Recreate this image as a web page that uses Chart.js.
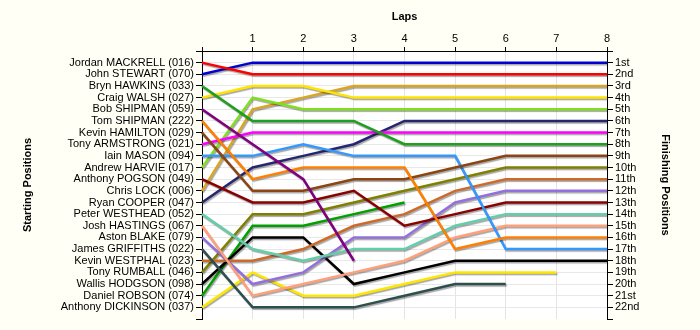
<!DOCTYPE html>
<html>
<head>
<meta charset="utf-8">
<script src="https://cdn.jsdelivr.net/npm/chart.js@4.4.1/dist/chart.umd.min.js"></script>
<style>
	body { margin: 0; background: #fffff5; }
	#lap-chart { display: block; }
</style>
</head>
<body>
<canvas id="lap-chart" width="700" height="330"></canvas>
<script>
// Lap chart data
const laps = [0, 1, 2, 3, 4, 5, 6, 7, 8];

const startingNames = [
	"Jordan MACKRELL (016)", "John STEWART (070)", "Bryn HAWKINS (033)", "Craig WALSH (027)",
	"Bob SHIPMAN (059)", "Tom SHIPMAN (222)", "Kevin HAMILTON (029)", "Tony ARMSTRONG (021)",
	"Iain MASON (094)", "Andrew HARVIE (017)", "Anthony POGSON (049)", "Chris LOCK (006)",
	"Ryan COOPER (047)", "Peter WESTHEAD (052)", "Josh HASTINGS (067)", "Aston BLAKE (079)",
	"James GRIFFITHS (022)", "Kevin WESTPHAL (023)", "Tony RUMBALL (046)", "Wallis HODGSON (098)",
	"Daniel ROBSON (074)", "Anthony DICKINSON (037)"
];

const finishingLabels = [
	"1st", "2nd", "3rd", "4th", "5th", "6th", "7th", "8th", "9th", "10th", "11th",
	"12th", "13th", "14th", "15th", "16th", "17th", "18th", "19th", "20th", "21st", "22nd"
];

// position at each lap, one list per driver (starting order)
const mackrell = [1, 2, 2, 2, 2, 2, 2, 2, 2];
const stewart = [2, 1, 1, 1, 1, 1, 1, 1, 1];
const hawkins = [3, 6, 6, 6, 8, 8, 8, 8, 8];
const walsh = [4, 3, 3, 4, 4, 4, 4, 4, 4];
const bobShipman = [5, 8, 11, 18];
const tomShipman = [6, 11, 10, 10, 10, 17, 16, 16, 16];
const hamilton = [7, 12, 12, 11, 11, 10, 9, 9, 9];
const armstrong = [8, 7, 7, 7, 7, 7, 7, 7, 7];
const mason = [9, 9, 8, 9, 9, 9, 17, 17, 17];
const harvie = [10, 4, 5, 5, 5, 5, 5, 5, 5];
const pogson = [11, 13, 13, 12, 15, 14, 13, 13, 13];
const lock = [12, 5, 4, 3, 3, 3, 3, 3, 3];
const cooper = [13, 10, 9, 8, 6, 6, 6, 6, 6];
const westhead = [14, 17, 18, 17, 17, 15, 14, 14, 14];
const hastings = [15, 21, 20, 19, 18, 16, 15, 15, 15];
const blake = [16, 20, 19, 16, 16, 13, 12, 12, 12];
const griffiths = [17, 22, 22, 22, 21, 20, 20];
const westphal = [18, 18, 17, 15, 14, 12, 11, 11, 11];
const rumball = [19, 14, 14, 13, 12, 11, 10, 10, 10];
const hodgson = [20, 16, 16, 20, 19, 18, 18, 18, 18];
const robson = [21, 15, 15, 14, 13];
const dickinson = [22, 19, 21, 21, 20, 19, 19, 19];

const driverSeries = [
	mackrell, stewart, hawkins, walsh, bobShipman, tomShipman, hamilton, armstrong,
	mason, harvie, pogson, lock, cooper, westhead, hastings, blake,
	griffiths, westphal, rumball, hodgson, robson, dickinson
];

const lineColors = [
	"#ff0000", "#0000d0", "#1ea01e", "#ffe400", "#800080", "#ff8000", "#8b4513", "#ff00ff",
	"#3399ff", "#80e020", "#8b0000", "#daa520", "#262670", "#66cdaa", "#ffa07a", "#9370db",
	"#2f4f4f", "#cd6a2a", "#808000", "#000000", "#00a000", "#ffe600"
];

const chartBg = {
	id: "chartBg",
	beforeDraw(chart) {
		const { ctx, chartArea } = chart;
		ctx.save();
		ctx.fillStyle = "#fffff5";
		ctx.fillRect(0, 0, chart.width, chart.height);
		ctx.fillStyle = "#ffffff";
		ctx.fillRect(chartArea.left, chartArea.top, chartArea.right - chartArea.left, chartArea.bottom - chartArea.top);
		ctx.restore();
	}
};

const lineShadow = {
	id: "lineShadow",
	beforeDatasetsDraw(chart) {
		const ctx = chart.ctx;
		ctx.save();
		ctx.shadowColor = "rgba(0, 0, 0, 0.35)";
		ctx.shadowOffsetX = 1;
		ctx.shadowOffsetY = 1.5;
		ctx.shadowBlur = 1;
	},
	afterDatasetsDraw(chart) {
		chart.ctx.restore();
	}
};

function rowTicks(scale) {
	scale.ticks = [];
	for (let v = 0; v <= 23; v++) scale.ticks.push({ value: v });
}

const tickFont = { family: "'Liberation Sans', Arial, sans-serif", size: 11 };
const titleFont = { family: "'Liberation Sans', Arial, sans-serif", size: 11, weight: "bold" };

Chart.defaults.color = "#000000";

new Chart(document.getElementById("lap-chart"), {
	type: "line",
	data: {
		datasets: driverSeries.map((series, i) => ({
			label: startingNames[i],
			data: series.map((pos, lap) => ({ x: laps[lap], y: pos })),
			borderColor: lineColors[i],
			borderWidth: 2.5,
			pointRadius: 0,
			tension: 0,
			fill: false,
			clip: false
		}))
	},
	options: {
		responsive: false,
		animation: false,
		layout: { padding: { top: 0, left: 0, right: 0, bottom: 11 } },
		plugins: {
			legend: { display: false },
			tooltip: { enabled: false }
		},
		scales: {
			x: {
				type: "linear",
				position: "top",
				min: 0,
				max: 8,
				afterFit(scale) { scale.height = 51; },
				ticks: {
					stepSize: 1,
					font: tickFont,
					color: "#000",
					padding: 1,
					callback: (v) => (v === 0 ? "" : v)
				},
				grid: { color: "#e4e4e4", tickColor: "#000", tickLength: 4 },
				border: { color: "#000", width: 1 },
				title: { display: true, text: "Laps", font: titleFont, color: "#000", padding: { top: 10, bottom: 0 } }
			},
			y: {
				type: "linear",
				position: "left",
				reverse: true,
				min: 0,
				max: 23,
				afterFit(scale) { scale.width = 202; },
				afterBuildTicks: rowTicks,
				ticks: {
					autoSkip: false,
					font: tickFont,
					color: "#000",
					padding: 2,
					callback: (v) => startingNames[v - 1] || ""
				},
				grid: {
					color: (c) => (c.tick && (c.tick.value === 0 || c.tick.value === 23) ? "rgba(0,0,0,0)" : "#e8e8e8"),
					tickColor: "#000",
					tickLength: 6
				},
				border: { color: "#000", width: 1 },
				title: { display: true, text: "Starting Positions", font: titleFont, color: "#000", padding: { top: 21, bottom: 0 } }
			},
			y2: {
				type: "linear",
				position: "right",
				reverse: true,
				min: 0,
				max: 23,
				afterFit(scale) { scale.width = 93; },
				afterBuildTicks: rowTicks,
				ticks: {
					autoSkip: false,
					font: tickFont,
					color: "#000",
					padding: 2,
					callback: (v) => finishingLabels[v - 1] || ""
				},
				grid: { drawOnChartArea: false, tickColor: "#000", tickLength: 6 },
				border: { color: "#000", width: 1 },
				title: { display: true, text: "Finishing Positions", font: titleFont, color: "#000", padding: { top: 28, bottom: 0 } }
			}
		}
	},
	plugins: [chartBg, lineShadow]
});
</script>
</body>
</html>
